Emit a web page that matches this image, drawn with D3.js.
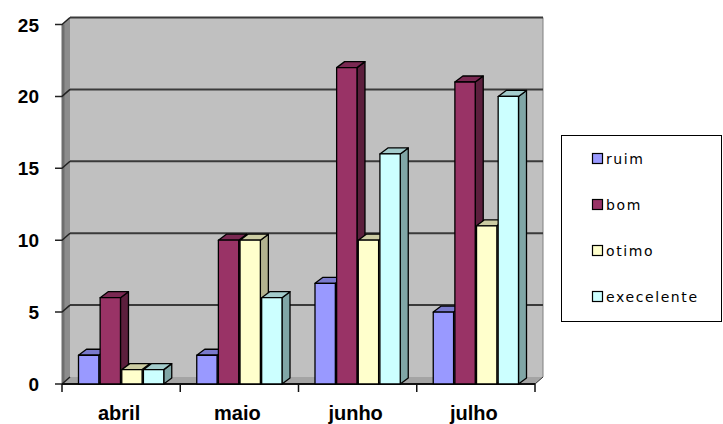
<!DOCTYPE html>
<html>
<head>
<meta charset="utf-8">
<script src="https://cdn.jsdelivr.net/npm/d3@7"></script>
<style>
  html, body { margin: 0; padding: 0; background: #fff; }
  svg { display: block; }
</style>
</head>
<body>
<svg id="chart" width="723" height="424"></svg>
<script>
// Monthly ratings per category, drawn as a 3D clustered column chart
const categories = ["abril", "maio", "junho", "julho"];
const seriesNames = ["ruim", "bom", "otimo", "execelente"];
const ruim = [2, 2, 7, 5];
const bom = [6, 10, 22, 21];
const otimo = [1, 10, 10, 11];
const execelente = [1, 6, 16, 20];
const yTicks = [0, 5, 10, 15, 20, 25];

const seriesValues = [ruim, bom, otimo, execelente];
const palette = [
  { front: "#9999ff", side: "#6b6bb3", top: "#7a7acc" },
  { front: "#993366", side: "#5c1f3d", top: "#7a2952" },
  { front: "#ffffcc", side: "#b3b38f", top: "#cccca3" },
  { front: "#ccffff", side: "#80a6a6", top: "#a3cccc" }
];

const svg = d3.select("#chart");

// front plane geometry and depth offset of the 3D box
const x0 = 62, x1 = 535;
const wallDx = 8, wallDy = -7;
const barDx = 8, barDy = -6;

const y = d3.scaleLinear().domain([0, 25]).range([384, 24.5]);
const x = d3.scaleBand().domain(categories).range([x0, x1])
  .paddingInner(0.279).paddingOuter(0.1395);
const xs = d3.scaleBand().domain(seriesNames).range([0, x.bandwidth()]).paddingInner(0.06);

const yTop = y(25), yBot = y(0);

// back wall
svg.append("rect")
  .attr("x", x0 + wallDx).attr("y", yTop + wallDy)
  .attr("width", x1 - x0).attr("height", yBot - yTop)
  .attr("fill", "#c0c0c0");
svg.append("line")
  .attr("x1", x1 + wallDx).attr("x2", x1 + wallDx)
  .attr("y1", yTop + wallDy).attr("y2", yBot + wallDy)
  .attr("stroke", "#808080").attr("stroke-width", 1);

// left side wall
svg.append("polygon")
  .attr("points", [[x0, yBot], [x0, yTop], [x0 + wallDx, yTop + wallDy], [x0 + wallDx, yBot + wallDy]].join(" "))
  .attr("fill", "#8c8c8c");
svg.append("line")
  .attr("x1", x0 + 1).attr("x2", x0 + 1).attr("y1", yTop).attr("y2", yBot)
  .attr("stroke", "#6e6e6e").attr("stroke-width", 3);

// floor
svg.append("polygon")
  .attr("points", [[x0, yBot], [x1, yBot], [x1 + wallDx, yBot + wallDy], [x0 + wallDx, yBot + wallDy]].join(" "))
  .attr("fill", "#a4a4a4");

// gridlines on back wall with their run across the side wall
const grid = svg.append("g");
yTicks.forEach(v => {
  if (v > 0) {
    grid.append("line")
      .attr("x1", x0 + wallDx).attr("x2", x1 + wallDx)
      .attr("y1", y(v) + wallDy).attr("y2", y(v) + wallDy)
      .attr("stroke", "#3a3a3a").attr("stroke-width", 2);
  }
  grid.append("polyline")
    .attr("points", [[55, y(v)], [x0, y(v)], [x0 + wallDx, y(v) + wallDy]].join(" "))
    .attr("fill", "none").attr("stroke", "#222").attr("stroke-width", 1.5);
});

// category axis line and ticks
svg.append("line")
  .attr("x1", x0).attr("x2", x1).attr("y1", yBot).attr("y2", yBot)
  .attr("stroke", "#111").attr("stroke-width", 2);
svg.append("line")
  .attr("x1", x1).attr("x2", x1 + wallDx).attr("y1", yBot).attr("y2", yBot + wallDy)
  .attr("stroke", "#333").attr("stroke-width", 1);
const boundaryX = [x0].concat(categories.map(c => x(c) + x.bandwidth() + x.step() * x.paddingInner() / 2));
boundaryX[boundaryX.length - 1] = x1;
boundaryX.forEach(bx => {
  svg.append("line")
    .attr("x1", bx).attr("x2", bx).attr("y1", yBot).attr("y2", yBot + 8)
    .attr("stroke", "#111").attr("stroke-width", 1.5);
});

// y tick labels
svg.append("g").selectAll("text").data(yTicks).join("text")
  .attr("x", 39).attr("y", d => y(d) + 7)
  .attr("text-anchor", "end")
  .attr("font-family", "Liberation Sans, Arial, sans-serif")
  .attr("font-weight", "bold").attr("font-size", 19)
  .attr("fill", "#000")
  .text(d => d);

// category labels
svg.append("g").selectAll("text").data(categories).join("text")
  .attr("x", d => x(d) + x.bandwidth() / 2 - 2)
  .attr("y", 420)
  .attr("text-anchor", "middle")
  .attr("font-family", "Liberation Sans, Arial, sans-serif")
  .attr("font-weight", "bold").attr("font-size", 20)
  .attr("fill", "#000")
  .text(d => d);

// bars, drawn left to right so nearer faces overlap correctly
const bars = svg.append("g");
categories.forEach((c, ci) => {
  seriesNames.forEach((s, si) => {
    const v = seriesValues[si][ci];
    const bx = x(c) + xs(s), bw = xs.bandwidth();
    const by = y(v), bb = yBot;
    const col = palette[si];
    const g = bars.append("g").attr("stroke", "#000").attr("stroke-width", 1.3).attr("stroke-linejoin", "round");
    g.append("polygon")
      .attr("points", [[bx + bw, by], [bx + bw + barDx, by + barDy], [bx + bw + barDx, bb + barDy], [bx + bw, bb]].join(" "))
      .attr("fill", col.side);
    g.append("polygon")
      .attr("points", [[bx, by], [bx + barDx, by + barDy], [bx + bw + barDx, by + barDy], [bx + bw, by]].join(" "))
      .attr("fill", col.top);
    g.append("rect")
      .attr("x", bx).attr("y", by).attr("width", bw).attr("height", bb - by)
      .attr("fill", col.front);
  });
});

// legend
const legend = svg.append("g");
legend.append("rect")
  .attr("x", 561.5).attr("y", 135.5).attr("width", 160).attr("height", 186)
  .attr("fill", "#fff").attr("stroke", "#000").attr("stroke-width", 1);
const legendY = d3.scalePoint().domain(seriesNames).range([159, 297]);
seriesNames.forEach((s, si) => {
  legend.append("rect")
    .attr("x", 592.5).attr("y", legendY(s) - 5.5).attr("width", 10).attr("height", 10)
    .attr("fill", palette[si].front).attr("stroke", "#000").attr("stroke-width", 1.2);
  legend.append("text")
    .attr("x", 606).attr("y", legendY(s) + 5)
    .attr("font-family", "DejaVu Sans, sans-serif")
    .attr("font-size", 14).attr("letter-spacing", 1.6)
    .attr("fill", "#000")
    .text(s);
});
</script>
</body>
</html>
